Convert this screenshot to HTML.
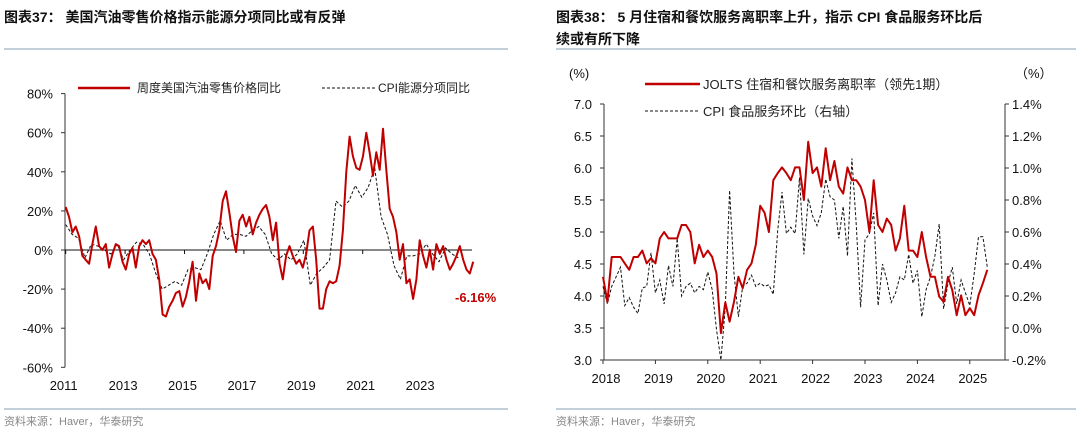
<!DOCTYPE html>
<html><head><meta charset="utf-8">
<style>
body{margin:0;width:1080px;height:432px;background:#fff;overflow:hidden;font-family:"Liberation Sans","Noto Sans CJK SC",sans-serif;}
svg{position:absolute;left:0;top:0}
</style></head>
<body>
<svg width="1080" height="432" font-family="Liberation Sans, Noto Sans CJK SC, sans-serif">
<text x="4" y="22" font-size="14" font-weight="bold" fill="#111">图表37：&#160;美国汽油零售价格指示能源分项同比或有反弹</text>
<line x1="4" y1="49" x2="508" y2="49" stroke="#9fb3c8" stroke-width="1.3"/>
<text x="556" y="22" font-size="14" font-weight="bold" fill="#111">图表38：&#160;5 月住宿和餐饮服务离职率上升，指示 CPI 食品服务环比后</text>
<text x="556" y="44" font-size="14" font-weight="bold" fill="#111">续或有所下降</text>
<line x1="556" y1="49" x2="1076" y2="49" stroke="#9fb3c8" stroke-width="1.3"/>
<line x1="4" y1="409" x2="508" y2="409" stroke="#9fb3c8" stroke-width="1.3"/>
<line x1="556" y1="409" x2="1076" y2="409" stroke="#9fb3c8" stroke-width="1.3"/>
<text x="4" y="425" font-size="11" fill="#888">资料来源：Haver，华泰研究</text>
<text x="556" y="425" font-size="11" fill="#888">资料来源：Haver，华泰研究</text>
<g id="left"></g>
<g id="right"></g>
</svg>
<script>
// ---- Left chart data ----
const gasStart = 2011.0, gasEnd = 2024.72;
const gasolineYoY = [22,17,9,12,7,-3,-5,-7,3,12,2,0,3,-9,-2,3,2,-6,-10,-2,1,-9,2,5,3,5,-2,-5,-15,-33,-34,-29,-26,-22,-21,-29,-24,-16,-6,-26,-12,-17,-15,-20,-3,2,10,25,30,19,7,-1,15,18,12,17,8,14,18,21,23,17,5,14,-7,-15,-3,2,-3,-7,-5,-9,-2,10,12,-5,-30,-30,-20,-16,-17,-16,-8,10,40,58,48,42,41,48,60,50,38,50,41,62,41,21,17,9,-5,3,-17,-15,-25,-15,5,-3,-9,0,-10,3,-2,2,-5,-10,-7,-3,2,-5,-10,-12,-6];
const cpiEnergyYoY = [13,8,6,-4,3,2,0,-2,3,-5,0,4,3,-2,-12,-20,-18,-16,-18,-10,-9,-10,-2,8,15,5,8,8,7,10,12,8,-2,-5,-2,-5,-2,5,-18,-12,-9,-5,25,22,25,33,27,32,42,17,8,-8,-15,-3,-3,-2,3,-2,-6,1,-2,-4];
const leftYTicks = [80,60,40,20,0,-20,-40,-60];
const leftXLabels = [2011,2013,2015,2017,2019,2021,2023];
const lastLabel = "-6.16%";

// ---- Right chart data ----
const rStart = 2018.0; // monthly
const joltsQuits = [4.30,3.91,4.61,4.61,4.61,4.51,4.41,4.61,4.61,4.71,4.51,4.59,4.51,4.90,5.00,4.90,4.90,4.90,5.11,5.11,5.00,4.51,4.80,4.61,4.71,4.61,4.35,3.42,3.90,3.60,3.91,4.30,4.12,4.41,4.51,4.80,5.41,5.30,5.00,5.81,5.92,6.01,5.92,5.81,6.01,6.01,5.50,6.41,5.92,6.01,5.71,6.31,5.81,6.11,5.71,5.60,6.01,5.81,5.81,5.71,5.50,5.00,5.81,5.11,5.00,5.21,5.11,4.71,4.90,5.41,4.71,4.71,4.61,5.00,4.61,4.30,4.30,3.99,3.91,4.30,4.09,3.70,4.01,3.70,3.81,3.70,4.01,4.20,4.41];
const cpiFoodMoM = [0.26,0.15,0.26,0.32,0.38,0.14,0.19,0.13,0.09,0.25,0.26,0.47,0.22,0.30,0.15,0.39,0.26,0.56,0.20,0.26,0.28,0.22,0.26,0.24,0.35,0.24,-0.01,-0.20,0.13,0.86,0.34,0.07,0.26,0.28,0.33,0.26,0.28,0.26,0.27,0.21,0.61,0.85,0.59,0.63,0.59,0.94,0.46,0.81,0.70,0.64,0.72,0.93,0.82,0.80,0.56,0.76,0.45,1.06,0.64,0.13,0.55,0.59,0.72,0.14,0.40,0.30,0.16,0.22,0.32,0.30,0.46,0.28,0.36,0.07,0.24,0.32,0.45,0.65,0.12,0.28,0.38,0.15,0.30,0.22,0.14,0.34,0.57,0.57,0.38];
const rLeftTicks = [7.0,6.5,6.0,5.5,5.0,4.5,4.0,3.5,3.0];
const rRightTicks = [1.4,1.2,1.0,0.8,0.6,0.4,0.2,0.0,-0.2];
const rXLabels = [2018,2019,2020,2021,2022,2023,2024,2025];

const NS="http://www.w3.org/2000/svg";
function mk(parent, tag, attrs){const e=document.createElementNS(NS,tag);for(const k in attrs)e.setAttribute(k,attrs[k]);parent.appendChild(e);return e;}

// ---- Left chart ----
(function(){
  const g=document.getElementById('left');
  const y=v=>250-(v/20)*39.1;
  const x=t=>65.7+(t-2011)*29.7;
  // axis
  let a=mk(g,'line',{x1:65,y1:y(80),x2:65,y2:y(-60),stroke:'#333','stroke-width':1});
  
  
  leftYTicks.forEach(v=>{
    let t=mk(g,'line',{x1:61,y1:y(v),x2:65,y2:y(v),stroke:'#333','stroke-width':1});
    
    
    let l=mk(g,'text',{x:53,y:y(v)+5,'text-anchor':'end','font-size':13,fill:'#111'});
    l.textContent=v+'%';
    
    
  });
  let z=mk(g,'line',{x1:65,y1:y(0),x2:472,y2:y(0),stroke:'#111','stroke-width':1});
  
  
  leftXLabels.forEach(yr=>{
    let t=mk(g,'line',{x1:x(yr),y1:y(0),x2:x(yr),y2:y(0)+4,stroke:'#111','stroke-width':1});
    
    
    let l=mk(g,'text',{x:x(yr)-2,y:390,'text-anchor':'middle','font-size':13,fill:'#111'});
    l.textContent=yr;
    
    
  });
  const pts=(arr,end)=>arr.map((v,i)=>x(gasStart+(end-gasStart)*i/(arr.length-1)).toFixed(1)+','+y(v).toFixed(1)).join(' ');
  let c=mk(g,'polyline',{points:pts(cpiEnergyYoY,gasEnd-0.5),fill:'none',stroke:'#111','stroke-width':1,'stroke-dasharray':'3,2'});
  
  
  let r=mk(g,'polyline',{points:pts(gasolineYoY,gasEnd),fill:'none',stroke:'#c00000','stroke-width':2,'stroke-linejoin':'round'});
  
  
  let lb=mk(g,'text',{x:455,y:302,'font-size':13,'font-weight':'bold',fill:'#c00000'});
  lb.textContent=lastLabel;
  
  
  // legend
  let l1=mk(g,'line',{x1:78,y1:88,x2:130,y2:88,stroke:'#c00000','stroke-width':2.5});
  
  
  let t1=mk(g,'text',{x:137,y:92,'font-size':12,fill:'#222'});
  t1.textContent='周度美国汽油零售价格同比';
  
  
  let l2=mk(g,'line',{x1:322,y1:88,x2:375,y2:88,stroke:'#111','stroke-width':1,'stroke-dasharray':'3,2'});
  
  
  let t2=mk(g,'text',{x:378,y:92,'font-size':12,fill:'#222'});
  t2.textContent='CPI能源分项同比';
  
  
})();

// ---- Right chart ----
(function(){
  const g=document.getElementById('right');
  const yl=v=>104+(7-v)/0.5*32;
  const yr=v=>104+(1.4-v)/0.2*32;
  const x=t=>603+(t-2018)*52.4;
  const top=yl(7), bot=yl(3);
  [[604,'right-left-axis'],[1005,'right-right-axis']].forEach(([ax,n])=>{
    let a=mk(g,'line',{x1:ax,y1:top,x2:ax,y2:bot,stroke:'#333','stroke-width':1});
    
    
  });
  let b=mk(g,'line',{x1:604,y1:bot,x2:1005,y2:bot,stroke:'#333','stroke-width':1});
  
  
  rLeftTicks.forEach(v=>{
    let t=mk(g,'line',{x1:600,y1:yl(v),x2:604,y2:yl(v),stroke:'#333'});
    
    
    let l=mk(g,'text',{x:592,y:yl(v)+5,'text-anchor':'end','font-size':13,fill:'#111'});
    l.textContent=v.toFixed(1);
    
    
  });
  rRightTicks.forEach(v=>{
    let t=mk(g,'line',{x1:1005,y1:yr(v),x2:1009,y2:yr(v),stroke:'#333'});
    
    
    let l=mk(g,'text',{x:1012,y:yr(v)+5,'font-size':13,fill:'#111'});
    l.textContent=v.toFixed(1)+'%';
    
    
  });
  rXLabels.forEach(yy=>{
    let t=mk(g,'line',{x1:x(yy),y1:bot,x2:x(yy),y2:bot+4,stroke:'#333'});
    
    
    let l=mk(g,'text',{x:x(yy)+3,y:383,'text-anchor':'middle','font-size':13,fill:'#111'});
    l.textContent=yy;
    
    
  });
  let u1=mk(g,'text',{x:569,y:78,'font-size':13,fill:'#111'});u1.textContent='(%)';
  
  
  let u2=mk(g,'text',{x:1015,y:78,'font-size':13,fill:'#111'});u2.textContent='（%）';
  
  
  const mx=i=>x(rStart+i/12);
  let c=mk(g,'polyline',{points:cpiFoodMoM.map((v,i)=>mx(i).toFixed(1)+','+yr(v).toFixed(1)).join(' '),fill:'none',stroke:'#111','stroke-width':1,'stroke-dasharray':'3,2'});
  
  
  let r=mk(g,'polyline',{points:joltsQuits.map((v,i)=>mx(i).toFixed(1)+','+yl(v).toFixed(1)).join(' '),fill:'none',stroke:'#c00000','stroke-width':2,'stroke-linejoin':'round'});
  
  
  let l1=mk(g,'line',{x1:645,y1:84,x2:700,y2:84,stroke:'#c00000','stroke-width':2.5});
  
  
  let t1=mk(g,'text',{x:703,y:89,'font-size':13,fill:'#222'});
  t1.textContent='JOLTS 住宿和餐饮服务离职率（领先1期）';
  
  
  let l2=mk(g,'line',{x1:645,y1:111,x2:700,y2:111,stroke:'#111','stroke-width':1,'stroke-dasharray':'3,2'});
  
  
  let t2=mk(g,'text',{x:703,y:116,'font-size':13,fill:'#222'});
  t2.textContent='CPI 食品服务环比（右轴）';
  
  
})();
</script>
</body></html>
